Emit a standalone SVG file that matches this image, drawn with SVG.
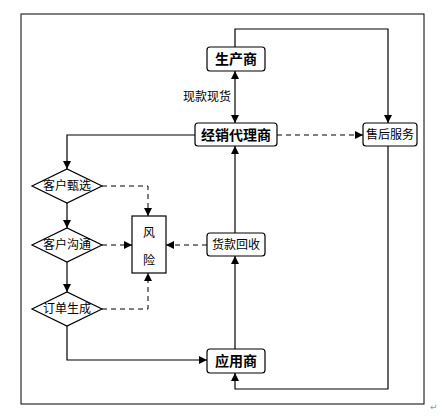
<svg xmlns="http://www.w3.org/2000/svg" width="445" height="419" viewBox="0 0 445 419">
<style>
.box{fill:#fff;stroke:#000;stroke-width:1.2}
.ln{fill:none;stroke:#000;stroke-width:1.2}
.dash{fill:none;stroke:#000;stroke-width:1;stroke-dasharray:5,4}
.b{font-family:"Noto Sans CJK SC","Noto Sans CJK JP",sans-serif;font-size:14px;font-weight:bold;text-anchor:middle}
.t{font-family:"Noto Sans CJK SC","Noto Sans CJK JP",sans-serif;font-size:12px;text-anchor:middle}
</style>
<defs>
<marker id="ah" viewBox="0 0 10 10" refX="10" refY="5" markerWidth="8" markerHeight="8" markerUnits="userSpaceOnUse" orient="auto-start-reverse">
<path d="M0,0 L10,5 L0,10 z" fill="#000"/>
</marker>
</defs>
<rect x="0" y="0" width="445" height="419" fill="#fff"/>
<rect x="21" y="14" width="403" height="390" fill="none" stroke="#000" stroke-width="1"/>
<text x="430" y="410" font-family="DejaVu Sans,sans-serif" font-size="9" fill="#999">↵</text>

<g id="connectors">
<polyline class="ln" points="235,47 235,29 388,29 388,123" marker-end="url(#ah)"/>
<line class="ln" x1="235" y1="71" x2="235" y2="123" marker-start="url(#ah)" marker-end="url(#ah)"/>
<line class="dash" x1="277" y1="135" x2="363" y2="135" marker-end="url(#ah)"/>
<polyline class="ln" points="195,135 67,135 67,169" marker-end="url(#ah)"/>
<line class="ln" x1="67" y1="203" x2="67" y2="228" marker-end="url(#ah)"/>
<line class="ln" x1="67" y1="262" x2="67" y2="292" marker-end="url(#ah)"/>
<polyline class="dash" points="102,186 148,186 148,216" marker-end="url(#ah)"/>
<line class="dash" x1="102" y1="245" x2="132" y2="245" marker-end="url(#ah)"/>
<polyline class="dash" points="102,309 148,309 148,273" marker-end="url(#ah)"/>
<line class="dash" x1="207" y1="245" x2="166" y2="245" marker-end="url(#ah)"/>
<line class="ln" x1="235" y1="233" x2="235" y2="146" marker-end="url(#ah)"/>
<line class="ln" x1="235" y1="349" x2="235" y2="256" marker-end="url(#ah)"/>
<polyline class="ln" points="67,326 67,360 207,360" marker-end="url(#ah)"/>
<polyline class="ln" points="388,146 388,389 235,389 235,373" marker-end="url(#ah)"/>
<text class="t" x="207" y="101">现款现货</text>
</g>

<g id="producer">
<rect class="box" x="207" y="47" width="58" height="24" rx="3"/>
<text class="b" x="236" y="64">生产商</text>
</g>
<g id="dealer">
<rect class="box" x="195" y="123" width="82" height="23" rx="3"/>
<text class="b" x="236" y="140">经销代理商</text>
</g>
<g id="aftersale">
<rect class="box" x="363" y="123" width="54" height="23" rx="3"/>
<text class="t" x="390" y="139">售后服务</text>
</g>
<g id="screen">
<polygon class="box" points="32,186 67,169 102,186 67,203"/>
<text class="t" x="67" y="190">客户甄选</text>
</g>
<g id="communicate">
<polygon class="box" points="32,245 67,228 102,245 67,262"/>
<text class="t" x="67" y="249">客户沟通</text>
</g>
<g id="order">
<polygon class="box" points="32,309 67,292 102,309 67,326"/>
<text class="t" x="67" y="313">订单生成</text>
</g>
<g id="risk">
<rect class="box" x="132" y="216" width="34" height="57"/>
<text class="t" x="149" y="237">风</text>
<text class="t" x="149" y="265">险</text>
</g>
<g id="collection">
<rect class="box" x="207" y="233" width="58" height="23" rx="3"/>
<text class="t" x="236" y="249">货款回收</text>
</g>
<g id="application">
<rect class="box" x="207" y="349" width="58" height="24" rx="3"/>
<text class="b" x="236" y="366">应用商</text>
</g>
</svg>
